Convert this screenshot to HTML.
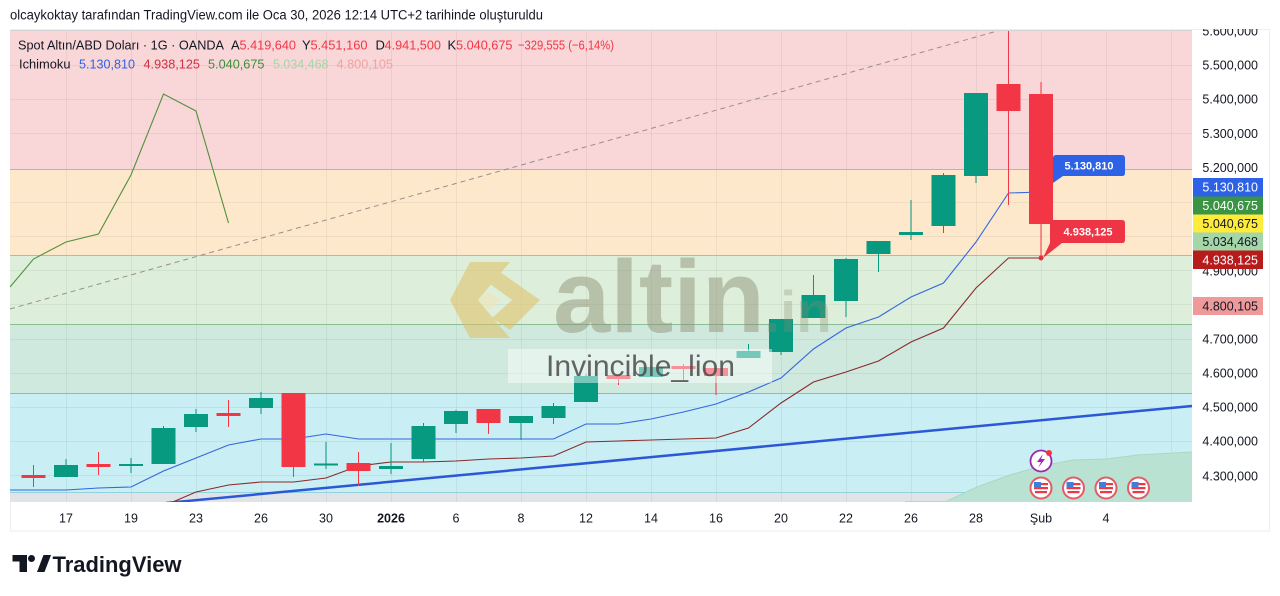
<!DOCTYPE html>
<html><head><meta charset="utf-8"><style>
html,body{margin:0;padding:0;background:#fff;}
svg{display:block;font-family:"Liberation Sans",sans-serif;}
</style></head><body>
<svg width="1280" height="596" viewBox="0 0 1280 596" xmlns="http://www.w3.org/2000/svg">
<defs>
<clipPath id="plot"><rect x="10" y="30" width="1182" height="472"/></clipPath>
<clipPath id="axis"><rect x="1192" y="29" width="78" height="473"/></clipPath>
</defs>
<rect width="1280" height="596" fill="#fff"/>
<text x="10" y="19.5" font-size="13.5" fill="#131722" textLength="533" lengthAdjust="spacingAndGlyphs">olcaykoktay tarafından TradingView.com ile Oca 30, 2026 12:14 UTC+2 tarihinde oluşturuldu</text>

<rect x="10.5" y="29.5" width="1259" height="501.5" fill="none" stroke="#eceef2"/>

<g clip-path="url(#plot)">
<rect x="10" y="30" width="1182" height="139.5" fill="#f9d6d8"/>
<rect x="10" y="169.5" width="1182" height="86" fill="#fde8cc"/>
<rect x="10" y="255.5" width="1182" height="68.5" fill="#ddefdb"/>
<rect x="10" y="324" width="1182" height="69" fill="#cfe9df"/>
<rect x="10" y="393" width="1182" height="99" fill="#c9eef3"/>
<rect x="10" y="492" width="1182" height="10" fill="#e1e4e6"/>

<g stroke="#000" stroke-opacity="0.05" stroke-width="1">
<line x1="10" y1="65.5" x2="1192" y2="65.5"/><line x1="10" y1="99.5" x2="1192" y2="99.5"/>
<line x1="10" y1="133.5" x2="1192" y2="133.5"/><line x1="10" y1="202.5" x2="1192" y2="202.5"/>
<line x1="10" y1="236.5" x2="1192" y2="236.5"/><line x1="10" y1="270.5" x2="1192" y2="270.5"/>
<line x1="10" y1="304.5" x2="1192" y2="304.5"/><line x1="10" y1="339.5" x2="1192" y2="339.5"/>
<line x1="10" y1="373.5" x2="1192" y2="373.5"/><line x1="10" y1="407.5" x2="1192" y2="407.5"/>
<line x1="10" y1="441.5" x2="1192" y2="441.5"/><line x1="10" y1="475.5" x2="1192" y2="475.5"/>
<line x1="66.5" y1="30" x2="66.5" y2="502"/><line x1="131.5" y1="30" x2="131.5" y2="502"/>
<line x1="196.5" y1="30" x2="196.5" y2="502"/><line x1="261.5" y1="30" x2="261.5" y2="502"/>
<line x1="326.5" y1="30" x2="326.5" y2="502"/><line x1="391.5" y1="30" x2="391.5" y2="502"/>
<line x1="456.5" y1="30" x2="456.5" y2="502"/><line x1="521.5" y1="30" x2="521.5" y2="502"/>
<line x1="586.5" y1="30" x2="586.5" y2="502"/><line x1="651.5" y1="30" x2="651.5" y2="502"/>
<line x1="716.5" y1="30" x2="716.5" y2="502"/><line x1="781.5" y1="30" x2="781.5" y2="502"/>
<line x1="846.5" y1="30" x2="846.5" y2="502"/><line x1="911.5" y1="30" x2="911.5" y2="502"/>
<line x1="976.5" y1="30" x2="976.5" y2="502"/><line x1="1041.5" y1="30" x2="1041.5" y2="502"/>
<line x1="1106.5" y1="30" x2="1106.5" y2="502"/><line x1="1171.5" y1="30" x2="1171.5" y2="502"/>
</g>

<line x1="10" y1="169.5" x2="1192" y2="169.5" stroke="#e3a0a4" stroke-width="1"/>
<line x1="10" y1="255.5" x2="1192" y2="255.5" stroke="#f0b232" stroke-width="1"/>
<line x1="10" y1="324.5" x2="1192" y2="324.5" stroke="#8dbd93" stroke-width="1"/>
<line x1="10" y1="393.5" x2="1192" y2="393.5" stroke="#7dc2bd" stroke-width="1"/>
<line x1="10" y1="492.5" x2="1192" y2="492.5" stroke="#92d2de" stroke-width="1"/>

<!-- kumo -->
<polygon points="945,502 977,487 1010,475 1041,466 1073,460 1106,459 1138,455 1192,452 1192,502" fill="#b9e2d3"/>
<polyline points="945,502 977,487 1010,475 1041,466 1073,460 1106,459 1138,455 1192,452" fill="none" stroke="#a8d9bf" stroke-width="1"/>
<line x1="905" y1="502" x2="945" y2="502" stroke="#9bbfb0" stroke-width="1"/>

<!-- dashed trend -->
<line x1="10" y1="309" x2="1008" y2="28" stroke="#9b8d8d" stroke-width="1" stroke-dasharray="5 4"/>
<!-- thick blue trend -->
<line x1="166" y1="503" x2="1192" y2="406" stroke="#2a58d6" stroke-width="2.5"/>

<!-- chikou -->
<polyline points="10,287 33.5,259 66,242 98.5,234 131,175 163.5,94 196,111 228.5,223" fill="none" stroke="#50913c" stroke-width="1.1"/>
<!-- tenkan -->
<polyline points="10,490 33.5,490 66,490 98.5,488 131,487 163.5,471 196,458 228.5,445 261,439 293.5,439 326,434 358.5,439 391,439 423.5,439 456,439 488.5,439 521,439 553.5,439 586,424 618.5,424 651,419 683.5,412 716,404 748.5,392 781,378 813.5,349 846,328 878.5,317 911,297 943.5,283 976,242 1008.5,193 1041,192" fill="none" stroke="#3566e0" stroke-width="1.1"/>
<!-- kijun -->
<polyline points="163.5,506 196,492 228.5,485 261,482 293.5,482 326,478 358.5,466 391,462 423.5,462 456,461 488.5,459 521,458 553.5,456 586,442 618.5,441 651,440 683.5,439 716,438 748.5,428 781,403 813.5,382 846,372 878.5,361 911,342 943.5,328 976,288 1008.5,258 1041,258" fill="none" stroke="#8a2a2a" stroke-width="1.1"/>

<!-- candles -->
<g>
<g fill="#f23645"><rect x="33" y="465" width="1" height="22"/><rect x="21.5" y="475" width="24" height="3"/></g>
<g fill="#089981"><rect x="65.5" y="459" width="1" height="18"/><rect x="54" y="465" width="24" height="12"/></g>
<g fill="#f23645"><rect x="98" y="452" width="1" height="23"/><rect x="86.5" y="464" width="24" height="3"/></g>
<g fill="#089981"><rect x="130.5" y="458" width="1" height="15"/><rect x="119" y="464" width="24" height="2"/></g>
<g fill="#089981"><rect x="163" y="426" width="1" height="38"/><rect x="151.5" y="428" width="24" height="36"/></g>
<g fill="#089981"><rect x="195.5" y="409" width="1" height="23"/><rect x="184" y="414" width="24" height="13"/></g>
<g fill="#f23645"><rect x="228" y="400" width="1" height="27"/><rect x="216.5" y="413" width="24" height="3"/></g>
<g fill="#089981"><rect x="260.5" y="392" width="1" height="22"/><rect x="249" y="398" width="24" height="10"/></g>
<g fill="#f23645"><rect x="293" y="393" width="1" height="84"/><rect x="281.5" y="393" width="24" height="74"/></g>
<g fill="#089981"><rect x="325.5" y="442" width="1" height="27"/><rect x="314" y="463.5" width="24" height="2"/></g>
<g fill="#f23645"><rect x="358" y="452" width="1" height="34"/><rect x="346.5" y="463" width="24" height="8"/></g>
<g fill="#089981"><rect x="390.5" y="443" width="1" height="31"/><rect x="379" y="466" width="24" height="3"/></g>
<g fill="#089981"><rect x="423" y="423" width="1" height="39"/><rect x="411.5" y="426" width="24" height="33"/></g>
<g fill="#089981"><rect x="455.5" y="410" width="1" height="23"/><rect x="444" y="411" width="24" height="13"/></g>
<g fill="#f23645"><rect x="488" y="409" width="1" height="25"/><rect x="476.5" y="409" width="24" height="14"/></g>
<g fill="#089981"><rect x="520.5" y="416" width="1" height="24"/><rect x="509" y="416" width="24" height="7"/></g>
<g fill="#089981"><rect x="553" y="403" width="1" height="21"/><rect x="541.5" y="406" width="24" height="12"/></g>
<g fill="#089981"><rect x="585.5" y="374" width="1" height="28"/><rect x="574" y="376" width="24" height="26"/></g>
<g fill="#f23645"><rect x="618" y="375" width="1" height="10"/><rect x="606.5" y="375" width="24" height="4"/></g>
<g fill="#089981"><rect x="650.5" y="365" width="1" height="12"/><rect x="639" y="367" width="24" height="10"/></g>
<g fill="#f23645"><rect x="683" y="364" width="1" height="16"/><rect x="671.5" y="366" width="24" height="3"/></g>
<g fill="#f23645"><rect x="715.5" y="368" width="1" height="27"/><rect x="704" y="368" width="24" height="8"/></g>
<g fill="#089981"><rect x="748" y="344" width="1" height="14"/><rect x="736.5" y="351" width="24" height="7"/></g>
<g fill="#089981"><rect x="780.5" y="319" width="1" height="36"/><rect x="769" y="319" width="24" height="33"/></g>
<g fill="#089981"><rect x="813" y="275" width="1" height="43"/><rect x="801.5" y="295" width="24" height="23"/></g>
<g fill="#089981"><rect x="845.5" y="258" width="1" height="59"/><rect x="834" y="259" width="24" height="42"/></g>
<g fill="#089981"><rect x="878" y="241" width="1" height="31"/><rect x="866.5" y="241" width="24" height="13"/></g>
<g fill="#089981"><rect x="910.5" y="200" width="1" height="40"/><rect x="899" y="232" width="24" height="3"/></g>
<g fill="#089981"><rect x="943" y="173" width="1" height="60"/><rect x="931.5" y="175" width="24" height="51"/></g>
<g fill="#089981"><rect x="975.5" y="93" width="1" height="90"/><rect x="964" y="93" width="24" height="83"/></g>
<g fill="#f23645"><rect x="1008" y="30" width="1" height="175"/><rect x="996.5" y="84" width="24" height="27"/></g>
<g fill="#f23645"><rect x="1040.5" y="82" width="1" height="176"/><rect x="1029" y="94" width="24" height="130"/></g>
</g>

<!-- watermark -->
<g opacity="0.55">
<path d="M470 262 L510 262 L478 300 L510 338 L470 338 L450 300 Z" fill="#e2bf63"/>
<path d="M500 272 L540 300 L510 330 L492 318 L512 300 L490 284 Z" fill="#e2bf63"/>
<path d="M488 292 L502 300 L488 310 L478 300 Z" fill="#f2e4b8"/>
</g>
<text x="553" y="332" font-size="103" font-weight="bold" fill="#8a8a6c" fill-opacity="0.45">altin</text>
<text x="764" y="332" font-size="58" font-weight="bold" fill="#8a8a6c" fill-opacity="0.3">.in</text>
<rect x="508" y="349" width="264" height="34" fill="#ffffff" fill-opacity="0.45"/>
<text x="546" y="376" font-size="30" fill="#4a4a4a" fill-opacity="0.85" textLength="189" lengthAdjust="spacingAndGlyphs">Invincible_lion</text>

<!-- callouts -->
<path d="M1056 155 H1122 Q1125 155 1125 158 V173 Q1125 176 1122 176 H1063 L1053 183 V158 Q1053 155 1056 155 Z" fill="#2d62e6"/>
<text x="1089" y="169.5" font-size="11" font-weight="bold" fill="#fff" text-anchor="middle">5.130,810</text>
<path d="M1053 220 H1122 Q1125 220 1125 223 V240 Q1125 243 1122 243 H1062 L1043 258 L1050 243 V223 Q1050 220 1053 220 Z" fill="#ee3445"/>
<text x="1088" y="235.5" font-size="11" font-weight="bold" fill="#fff" text-anchor="middle">4.938,125</text>
<circle cx="1041" cy="258" r="2.5" fill="#e03040"/>

<!-- event icons -->
<g>
<circle cx="1041" cy="461" r="10.5" fill="#fff" stroke="#9c27b0" stroke-width="1.8"/>
<path d="M1043 454 L1037 462 L1041 462 L1038 468 L1045 459 L1041 459 Z" fill="#9c27b0"/>
<circle cx="1049" cy="453" r="3" fill="#f23645"/>
</g>
<g id="flags">
<g transform="translate(1041,488)">
<circle r="10.5" fill="#fff" stroke="#e25b65" stroke-width="2"/>
<rect x="-7" y="-1" width="14" height="2.2" fill="#f23645"/><rect x="-6" y="3" width="12" height="2.2" fill="#f23645"/><rect x="-7" y="-5" width="14" height="2.2" fill="#f23645"/>
<rect x="-7" y="-6" width="7" height="6" fill="#3f7fd8"/>
</g>
<g transform="translate(1073.5,488)">
<circle r="10.5" fill="#fff" stroke="#e25b65" stroke-width="2"/>
<rect x="-7" y="-1" width="14" height="2.2" fill="#f23645"/><rect x="-6" y="3" width="12" height="2.2" fill="#f23645"/><rect x="-7" y="-5" width="14" height="2.2" fill="#f23645"/>
<rect x="-7" y="-6" width="7" height="6" fill="#3f7fd8"/>
</g>
<g transform="translate(1106,488)">
<circle r="10.5" fill="#fff" stroke="#e25b65" stroke-width="2"/>
<rect x="-7" y="-1" width="14" height="2.2" fill="#f23645"/><rect x="-6" y="3" width="12" height="2.2" fill="#f23645"/><rect x="-7" y="-5" width="14" height="2.2" fill="#f23645"/>
<rect x="-7" y="-6" width="7" height="6" fill="#3f7fd8"/>
</g>
<g transform="translate(1138.5,488)">
<circle r="10.5" fill="#fff" stroke="#e25b65" stroke-width="2"/>
<rect x="-7" y="-1" width="14" height="2.2" fill="#f23645"/><rect x="-6" y="3" width="12" height="2.2" fill="#f23645"/><rect x="-7" y="-5" width="14" height="2.2" fill="#f23645"/>
<rect x="-7" y="-6" width="7" height="6" fill="#3f7fd8"/>
</g>
</g>
</g>
<line x1="10" y1="30.5" x2="1192" y2="30.5" stroke="#d5d5d8" stroke-width="1"/>

<!-- legend -->
<g font-size="13">
<text x="18" y="49.5" fill="#131722" textLength="206" lengthAdjust="spacingAndGlyphs">Spot Altın/ABD Doları · 1G · OANDA</text>
<text x="231" y="49.5" fill="#131722">A</text><text x="239.5" y="49.5" fill="#f23645" textLength="56.5" lengthAdjust="spacingAndGlyphs">5.419,640</text>
<text x="302" y="49.5" fill="#131722">Y</text><text x="310.5" y="49.5" fill="#f23645" textLength="57" lengthAdjust="spacingAndGlyphs">5.451,160</text>
<text x="375.5" y="49.5" fill="#131722">D</text><text x="384.5" y="49.5" fill="#f23645" textLength="56.5" lengthAdjust="spacingAndGlyphs">4.941,500</text>
<text x="447.5" y="49.5" fill="#131722">K</text><text x="456" y="49.5" fill="#f23645" textLength="56.5" lengthAdjust="spacingAndGlyphs">5.040,675</text>
<text x="518" y="49.5" fill="#f23645" textLength="96" lengthAdjust="spacingAndGlyphs">−329,555 (−6,14%)</text>
<text x="19" y="68.5" fill="#131722" textLength="51.5" lengthAdjust="spacingAndGlyphs">Ichimoku</text>
<text x="79" y="68.5" fill="#2d62e6" textLength="56" lengthAdjust="spacingAndGlyphs">5.130,810</text>
<text x="143.5" y="68.5" fill="#d32f3f" textLength="56.5" lengthAdjust="spacingAndGlyphs">4.938,125</text>
<text x="208" y="68.5" fill="#3a8f3a" textLength="56.5" lengthAdjust="spacingAndGlyphs">5.040,675</text>
<text x="273" y="68.5" fill="#a5d6a7" textLength="55.5" lengthAdjust="spacingAndGlyphs">5.034,468</text>
<text x="336.5" y="68.5" fill="#efa3a3" textLength="56.5" lengthAdjust="spacingAndGlyphs">4.800,105</text>
</g>

<!-- price axis -->
<g clip-path="url(#axis)" font-size="12.5" fill="#131722" text-anchor="end">
<text x="1258" y="35.5">5.600,000</text>
<text x="1258" y="69.5">5.500,000</text>
<text x="1258" y="103.5">5.400,000</text>
<text x="1258" y="138">5.300,000</text>
<text x="1258" y="172">5.200,000</text>
<text x="1258" y="275.5">4.900,000</text>
<text x="1258" y="343.5">4.700,000</text>
<text x="1258" y="377.5">4.600,000</text>
<text x="1258" y="411.5">4.500,000</text>
<text x="1258" y="445.5">4.400,000</text>
<text x="1258" y="480.5">4.300,000</text>
</g>
<g font-size="12.5" text-anchor="end">
<rect x="1193" y="178" width="70" height="18.5" fill="#2d62e6"/>
<text x="1258" y="191.5" fill="#fff">5.130,810</text>
<rect x="1193" y="196.5" width="70" height="18" fill="#3b9444"/>
<text x="1258" y="210" fill="#fff">5.040,675</text>
<rect x="1193" y="214.5" width="70" height="18" fill="#ffeb3b"/>
<text x="1258" y="228" fill="#131722">5.040,675</text>
<rect x="1193" y="232.5" width="70" height="18" fill="#a5d6a7"/>
<text x="1258" y="246" fill="#131722">5.034,468</text>
<rect x="1193" y="250.5" width="70" height="18.5" fill="#b71c1c"/>
<text x="1258" y="264.5" fill="#fff">4.938,125</text>
<rect x="1193" y="297" width="70" height="18" fill="#ef9a9a"/>
<text x="1258" y="310.5" fill="#131722">4.800,105</text>
</g>

<!-- time axis -->
<g font-size="12.5" fill="#131722" text-anchor="middle">
<text x="66" y="522.5">17</text><text x="131" y="522.5">19</text><text x="196" y="522.5">23</text>
<text x="261" y="522.5">26</text><text x="326" y="522.5">30</text>
<text x="391" y="522.5" font-weight="bold">2026</text>
<text x="456" y="522.5">6</text><text x="521" y="522.5">8</text><text x="586" y="522.5">12</text>
<text x="651" y="522.5">14</text><text x="716" y="522.5">16</text><text x="781" y="522.5">20</text>
<text x="846" y="522.5">22</text><text x="911" y="522.5">26</text><text x="976" y="522.5">28</text>
<text x="1041" y="522.5">Şub</text><text x="1106" y="522.5">4</text>
</g>

<!-- TradingView logo -->
<g fill="#131722">
<path d="M12.5 555 H27 V572 H19.5 V561.5 H12.5 Z"/>
<circle cx="31.5" cy="558.5" r="3.5"/>
<path d="M37 572 L43.5 555 H51 L44.5 572 Z"/>
</g>
<text x="52.5" y="572" font-size="22" font-weight="bold" fill="#131722" textLength="129" lengthAdjust="spacingAndGlyphs">TradingView</text>
</svg>
</body></html>
